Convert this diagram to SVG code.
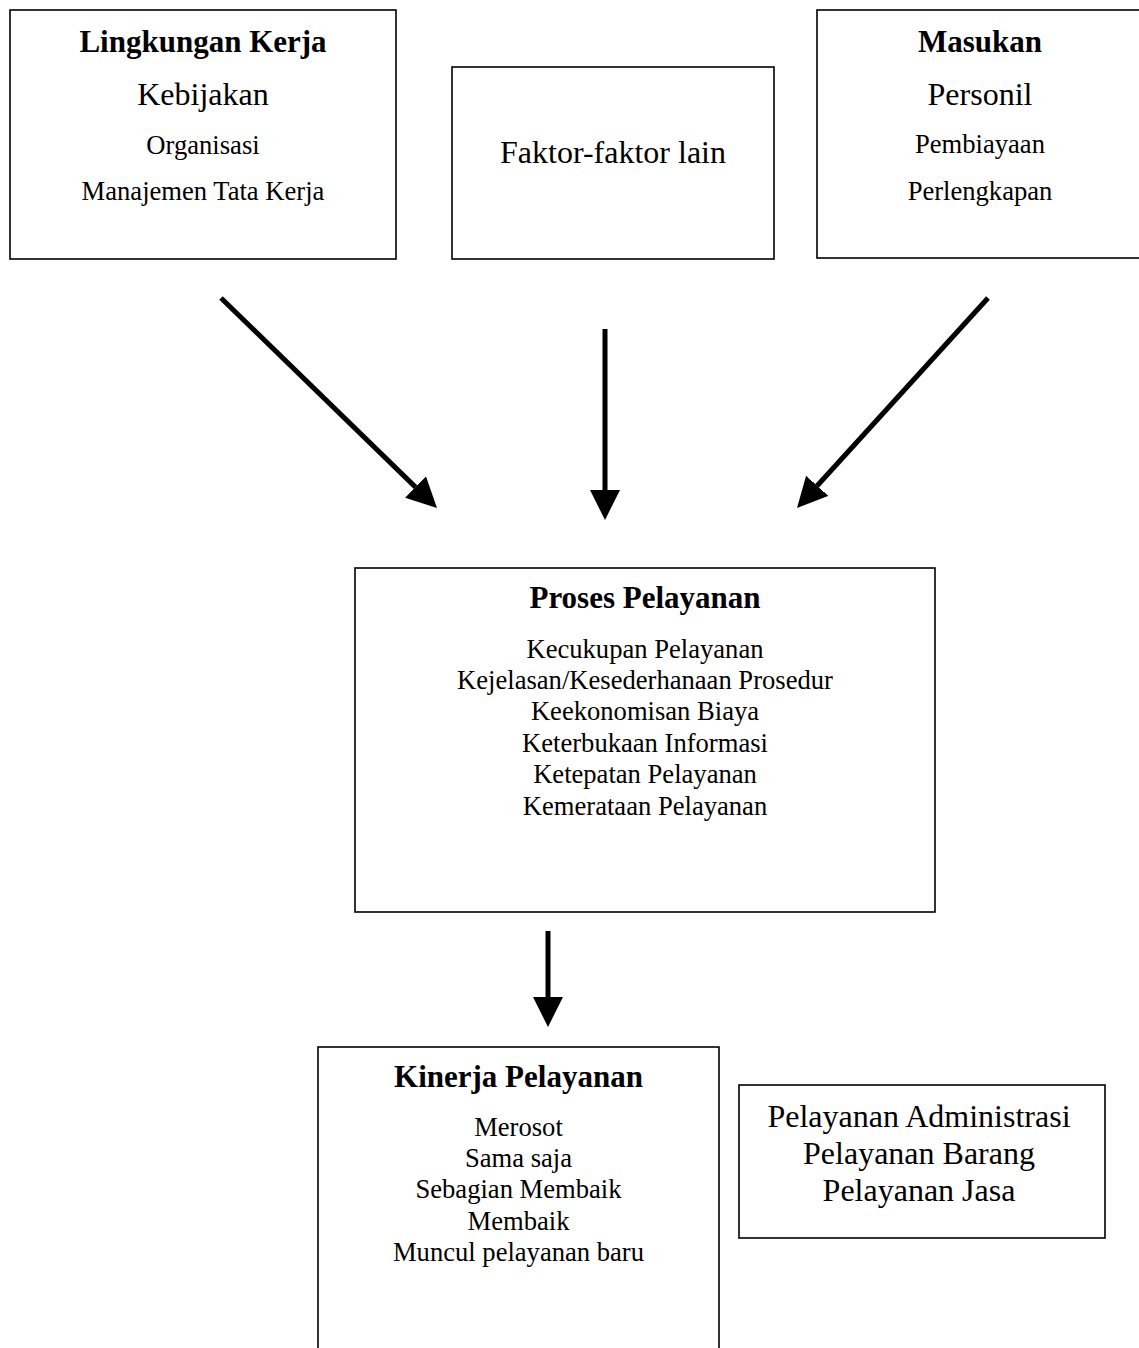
<svg xmlns="http://www.w3.org/2000/svg" width="1139" height="1348" viewBox="0 0 1139 1348">
<style>
.box{fill:#fff;stroke:#000;stroke-width:1.6}
text{font-family:"Liberation Serif","Times New Roman",serif;fill:#000;text-anchor:middle}
.t{font-weight:bold;font-size:31px}
.b{font-size:32px}
.s{font-size:26.6px}
.conn{stroke:#000;stroke-width:5;fill:none;marker-end:url(#ah)}
</style>
<defs>
<marker id="ah" markerUnits="userSpaceOnUse" markerWidth="30" markerHeight="30" refX="0" refY="15" orient="auto" viewBox="0 0 30 30">
<path d="M0,0 L30,15 L0,30 z" fill="#000"/>
</marker>
</defs>
<rect width="1139" height="1348" fill="#fff"/>
<g id="lingkungan">
<rect class="box" x="10" y="10" width="386" height="249"/>
<text class="t" x="203" y="52">Lingkungan Kerja</text>
<text class="b" x="203" y="105">Kebijakan</text>
<text class="s" x="203" y="154">Organisasi</text>
<text class="s" x="203" y="200">Manajemen Tata Kerja</text>
</g>
<g id="faktor">
<rect class="box" x="452" y="67" width="322" height="192"/>
<text class="b" x="613" y="163">Faktor-faktor lain</text>
</g>
<g id="masukan">
<rect class="box" x="817" y="10" width="340" height="248"/>
<text class="t" x="980" y="52">Masukan</text>
<text class="b" x="980" y="105">Personil</text>
<text class="s" x="980" y="153">Pembiayaan</text>
<text class="s" x="980" y="200">Perlengkapan</text>
</g>
<g id="proses">
<rect class="box" x="355" y="568" width="580" height="344"/>
<text class="t" x="645" y="608">Proses Pelayanan</text>
<text class="s" x="645" y="658">Kecukupan Pelayanan</text>
<text class="s" x="645" y="689">Kejelasan/Kesederhanaan Prosedur</text>
<text class="s" x="645" y="720">Keekonomisan Biaya</text>
<text class="s" x="645" y="752">Keterbukaan Informasi</text>
<text class="s" x="645" y="783">Ketepatan Pelayanan</text>
<text class="s" x="645" y="815">Kemerataan Pelayanan</text>
</g>
<g id="kinerja">
<rect class="box" x="318" y="1047" width="401" height="400"/>
<text class="t" x="518.5" y="1087">Kinerja Pelayanan</text>
<text class="s" x="518.5" y="1136">Merosot</text>
<text class="s" x="518.5" y="1167">Sama saja</text>
<text class="s" x="518.5" y="1198">Sebagian Membaik</text>
<text class="s" x="518.5" y="1230">Membaik</text>
<text class="s" x="518.5" y="1261">Muncul pelayanan baru</text>
</g>
<g id="jenis">
<rect class="box" x="739" y="1085" width="366" height="153"/>
<text class="b" x="919" y="1127">Pelayanan Administrasi</text>
<text class="b" x="919" y="1164">Pelayanan Barang</text>
<text class="b" x="919" y="1201">Pelayanan Jasa</text>
</g>
<g id="connectors">
<line class="conn" x1="221" y1="298" x2="415.5" y2="487.1"/>
<line class="conn" x1="605" y1="329" x2="605" y2="490"/>
<line class="conn" x1="988" y1="298" x2="817.2" y2="485.8"/>
<line class="conn" x1="548" y1="931" x2="548" y2="997"/>
</g>
</svg>
